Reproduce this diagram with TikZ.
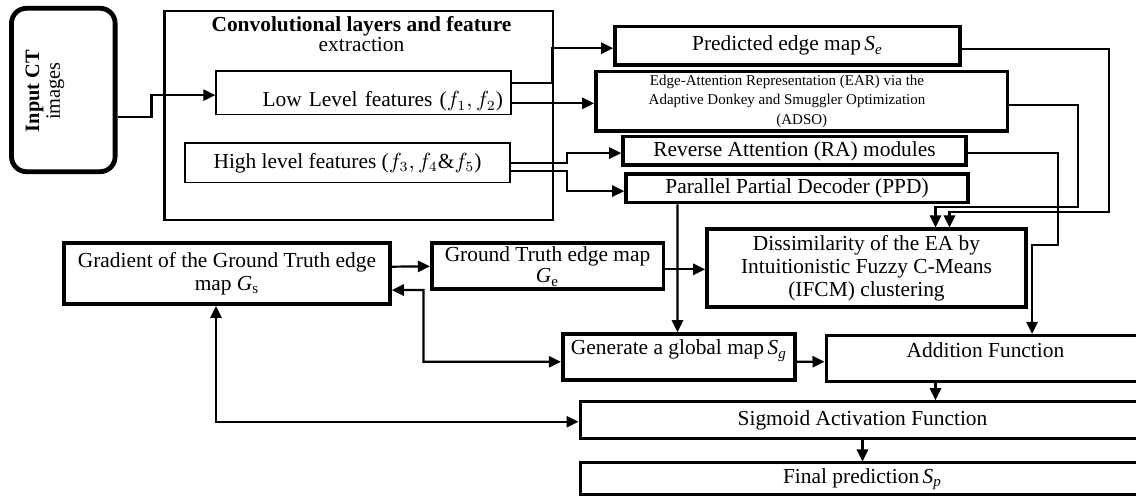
\documentclass[tikz,border=0pt]{standalone}
\usepackage{fontspec}
\setmainfont{Liberation Serif}
\usetikzlibrary{arrows.meta}
\newcommand\boxfont{\fontsize{10.7}{11.6}\selectfont}
\newcommand\mapsym[2]{\textit{#1}\textsubscript{#2}}
\tikzset{
	blk/.style={draw,line width=1.8pt,align=center,inner sep=1pt,font=\boxfont},
	thinblk/.style={blk,line width=0.7pt},
	arr/.style={-{Triangle[length=6pt,width=5.6pt]},line width=1.1pt},
	arrs/.style={{Triangle[length=6pt,width=5.6pt]}-{Triangle[length=6pt,width=5.6pt]},line width=1.1pt}
}
\begin{document}
\begin{tikzpicture}[x=0.5pt,y=-0.5pt]
	\useasboundingbox (0,0) rectangle (1136,496);
	\clip (0,0) rectangle (1136,496);
	\node[blk,line width=2.4pt,rounded corners=7.5pt,minimum width=51.8pt,minimum height=81.7pt] (input) at (63.3,90) {};
	\node[rotate=90,align=center,font=\fontsize{10.2}{10.4}\selectfont] (inputlbl) at (45,91) {\textbf{Input CT}\\images};
	\node[blk,line width=1.3pt,minimum width=194.2pt,minimum height=104.5pt] (conv) at (358.8,115.5) {};
	\node[align=center,font=\fontsize{10.7}{9.6}\selectfont] (convlbl) at (361.5,34) {\textbf{Convolutional layers and feature}\\extraction};
	\node[thinblk,minimum width=147.5pt,minimum height=21.7pt,text width=139.5pt,align=right,text height=16pt,text depth=1.8pt] (low) at (363.5,92.7) {Low Level features ($f_1, f_2$)};
	\node[thinblk,minimum width=162.5pt,minimum height=19.8pt] (high) at (347.5,162.8) {High level features ($f_3, f_4 \& f_5$)};
	\node[blk,minimum width=172.5pt,minimum height=19.2pt] (pred) at (787.5,45.8) {Predicted edge map\,\mapsym{S}{\textit{e}}};
	\node[blk,minimum width=205.8pt,minimum height=29.7pt,font=\fontsize{7.5}{9.7}\selectfont] (ear) at (801.8,101.3) {\mbox{Edge-Attention Representation (EAR) via the\hspace{14.8pt}}\\\mbox{Adaptive Donkey and Smuggler Optimization\hspace{14.8pt}}\\(ADSO)};
	\node[blk,minimum width=171.5pt,minimum height=14.2pt] (ra) at (794.5,150.9) {Reverse Attention (RA) modules};
	\node[blk,minimum width=171pt,minimum height=14.2pt] (ppd) at (797,188.5) {Parallel Partial Decoder (PPD)};
	\node[blk,minimum width=159.5pt,minimum height=39pt] (dissim) at (866.5,268.3) {Dissimilarity of the EA by\\Intuitionistic Fuzzy C-Means\\(IFCM) clustering};
	\node[blk,inner ysep=0pt,minimum width=115.8pt,minimum height=23pt,font=\fontsize{10.7}{10.8}\selectfont] (gt) at (547.5,266.3) {Ground Truth edge map\\\mapsym{G}{e}};
	\node[blk,minimum width=163pt,minimum height=30.4pt] (grad) at (227,273.7) {Gradient of the Ground Truth edge\\map \mapsym{G}{s}};
	\node[blk,minimum width=116.2pt,minimum height=23pt,text height=8pt,text depth=10pt] (gen) at (678.9,357) {Generate a global map\,\mapsym{S}{\textit{g}}};
	\node[blk,line width=1.5pt,minimum width=159.5pt,minimum height=23.3pt,text height=8pt,text depth=9.6pt] (add) at (985.5,358.7) {Addition Function};
	\node[blk,line width=1.5pt,minimum width=282.5pt,minimum height=18.3pt] (sig) at (862.5,420) {Sigmoid Activation Function};
	\node[blk,line width=1.5pt,minimum width=282.5pt,minimum height=16pt] (final) at (862.5,479) {Final prediction\,\mapsym{S}{\textit{p}}};
	\draw[arr] ([yshift=-13.4pt]input.east) -- ++(34,0) |- ([yshift=-1.2pt]low.west);
	\draw[arr] ([yshift=4.7pt]low.east) -- ++(40,0) |- ([yshift=-1.2pt]pred.west);
	\draw[arr] ([yshift=-5.3pt]low.east) -- ([yshift=-1pt]ear.west);
	\draw[arr] (high.east) -- ++(56,0) |- ([yshift=-1.1pt]ra.west);
	\draw[arr] ([yshift=-4pt]high.east) -- ++(56,0) |- ([yshift=-1.3pt]ppd.west);
	\draw[arr] ([yshift=-1.6pt]pred.east) -| (1109,211.7) -| ([xshift=41.5pt]dissim.north);
	\draw[arr] ([yshift=-1.9pt]ear.east) -| (1078,206.7) -| ([xshift=34.5pt]dissim.north);
	\draw[arr] ([yshift=-0.9pt]ra.east) -| (1058,245) -| ([xshift=23.3pt]add.north);
	\draw[arr] ([xshift=-59.8pt]ppd.south) -- ([xshift=-0.7pt]gen.north);
	\draw[arr] ([yshift=-1.5pt]gt.east) -- ([yshift=-0.5pt]dissim.west);
	\draw[arr] ([yshift=3.5pt]grad.east) -- (gt.west);
	\draw[arrs] ([yshift=-8.2pt]grad.east) -| (423.5,361.7) -- ([yshift=-2.4pt]gen.west);
	\draw[arrs] ([xshift=-5.5pt]grad.south) |- ([yshift=-0.9pt]sig.west);
	\draw[arr] ([yshift=-2.4pt]gen.east) -- ([yshift=-1.5pt]add.west);
	\draw[arr] ([xshift=-25pt]add.south) -- ([xshift=36.5pt]sig.north);
	\draw[arr] (sig.south) -- (final.north);
\end{tikzpicture}
\end{document}
